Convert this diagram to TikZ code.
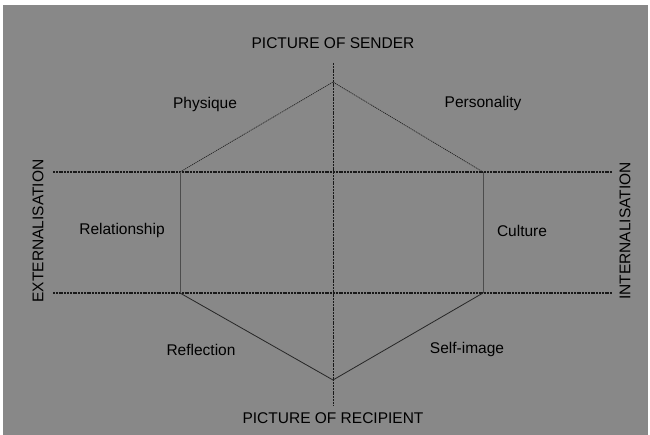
\documentclass[tikz,border=0pt]{standalone}
\usepackage{fontspec}
\setmainfont{Liberation Sans}
\begin{document}
\begin{tikzpicture}[x=1pt,y=-1pt,
  lbl/.style={inner sep=0pt,text=black,font=\fontsize{15.5}{18}\selectfont},
  axisline/.style={black!90,line width=1.1pt,dash pattern=on 2pt off 0.8pt},
  dotline/.style={black!85,line width=0.7pt,dash pattern=on 1.2pt off 0.8pt},
  solidline/.style={black!85,line width=0.8pt}]
\useasboundingbox (0,0) rectangle (650,435);
\fill[white] (0,0) rectangle (650,435);
\fill[fill={rgb,255:red,136;green,136;blue,136}] (3,5) rectangle (648,435);
% vertices
\coordinate (top) at (333,82);
\coordinate (bot) at (333,380);
\coordinate (ul) at (180,172);
\coordinate (ur) at (483,172);
\coordinate (ll) at (180,293);
\coordinate (lr) at (483,293);
\coordinate (hl1) at (53,172);
\coordinate (hr1) at (612,172);
\coordinate (hl2) at (53,293);
\coordinate (hr2) at (612,293);
\coordinate (vt) at (333,63);
\coordinate (vb) at (333,405);
% axes
\draw[axisline] (hl1) -- (hr1);
\draw[axisline] (hl2) -- (hr2);
\draw[axisline,line width=0.9pt] (vt) -- (vb);
% hexagon
\draw[dotline] (ul) -- (top) -- (ur);
\draw[solidline,black!70] (ul) -- (ll);
\draw[solidline,black!70] (ur) -- (lr);
\draw[solidline] (ll) -- (bot) -- (lr);
% labels
\node[lbl] (sender) at (333,43) {PICTURE OF SENDER};
\node[lbl] (recip) at (333,418) {PICTURE OF RECIPIENT};
\node[lbl] (phys) at (205,104) {Physique};
\node[lbl] (pers) at (483,103) {Personality};
\node[lbl] (rel) at (122,230) {Relationship};
\node[lbl] (cult) at (522,231) {Culture};
\node[lbl] (refl) at (201,350) {Reflection};
\node[lbl] (self) at (467,349) {Self-image};
\node[lbl,rotate=90] (ext) at (38,231) {EXTERNALISATION};
\node[lbl,rotate=90] (int) at (625,231) {INTERNALISATION};
\end{tikzpicture}
\end{document}
